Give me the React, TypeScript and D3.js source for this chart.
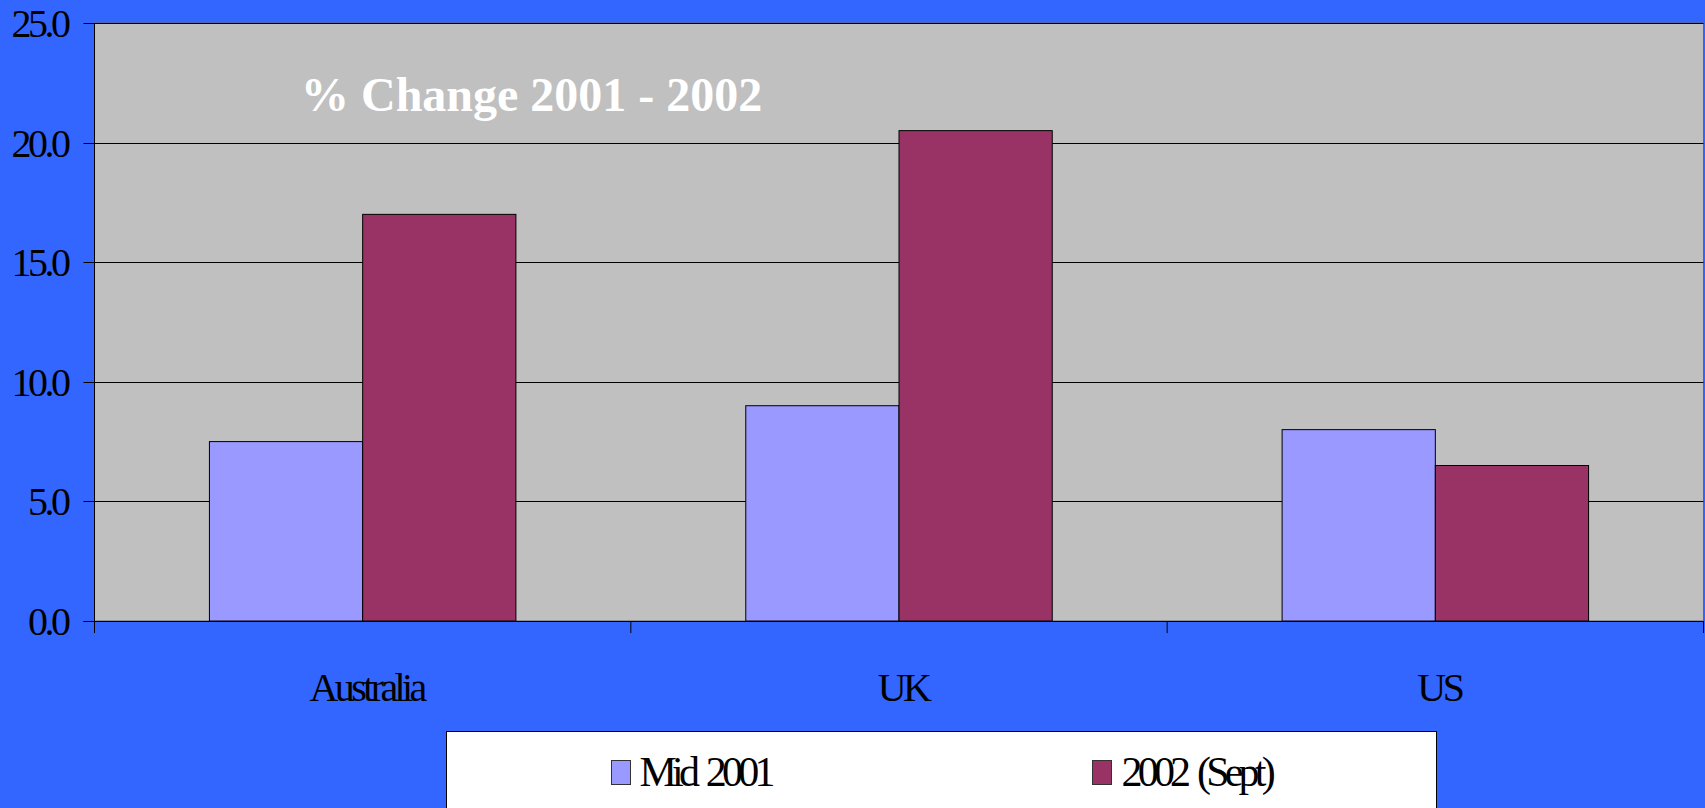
import React from "react";
import * as d3 from "d3";

const categories = ["Australia", "UK", "US"];
const seriesNames = ["Mid 2001", "2002 (Sept)"];
const mid2001 = [7.5, 9.0, 8.0];
const sept2002 = [17.0, 20.5, 6.5];
const yTicks = [0, 5, 10, 15, 20, 25];
const title = "% Change 2001 - 2002";

const W = 1705;
const H = 808;
const colors = ["#9999FF", "#993366"];
const font = "'Liberation Serif', 'Times New Roman', serif";

export default function App() {
  const left = 94.5;
  const right = 1703.5;
  const top = 23;
  const bottom = 621;

  const x0 = d3.scaleBand<string>().domain(categories).range([left, right]).paddingInner(0).paddingOuter(0);
  const x1 = d3.scaleBand<string>().domain(seriesNames).range([0, x0.bandwidth()]).paddingInner(0).paddingOuter(0.75);
  const y = d3.scaleLinear().domain([0, 25]).range([bottom, top]);

  const values = [mid2001, sept2002];

  return (
    <svg width={W} height={H} style={{ position: "absolute", left: 0, top: 0, display: "block" }}>
      <rect x={0} y={0} width={W} height={H} fill="#3366FF" />
      <rect x={left} y={top} width={right - left} height={bottom - top} fill="#C0C0C0" stroke="#666666" strokeWidth={1} />
      {yTicks.filter((t) => t > 0).map((t) => (
        <line key={"g" + t} x1={left} x2={right} y1={Math.round(y(t)) + 0.5} y2={Math.round(y(t)) + 0.5} stroke="#000" strokeWidth={1} />
      ))}
      {categories.map((c, i) =>
        seriesNames.map((s, j) => {
          const v = values[j][i];
          const bx = (x0(c) ?? 0) + (x1(s) ?? 0);
          return (
            <rect
              key={c + s}
              x={bx}
              y={y(v)}
              width={x1.bandwidth()}
              height={y(0) - y(v)}
              fill={colors[j]}
              stroke="#000"
              strokeWidth={1}
            />
          );
        })
      )}
      <line x1={left} x2={left} y1={top} y2={bottom + 12} stroke="#000" strokeWidth={1} />
      <line x1={left - 11} x2={right} y1={bottom + 0.5} y2={bottom + 0.5} stroke="#000" strokeWidth={1} />
      {yTicks.map((t) => (
        <g key={"yt" + t}>
          <line x1={left - 11} x2={left} y1={Math.round(y(t)) + 0.5} y2={Math.round(y(t)) + 0.5} stroke="#000" strokeWidth={1} />
          <text
            x={67.5}
            y={y(t) + 14}
            textAnchor="end"
            fontFamily={font}
            fontSize={40}
            letterSpacing={-3.5}
            fill="#000"
          >
            {t.toFixed(1)}
          </text>
        </g>
      ))}
      {x0.domain().map((c) => (
        <line key={"xt" + c} x1={x0(c)} x2={x0(c)} y1={bottom} y2={bottom + 12} stroke="#000" strokeWidth={1} />
      ))}
      <line x1={right} x2={right} y1={bottom} y2={bottom + 12} stroke="#000" strokeWidth={1} />
      {categories.map((c) => (
        <text
          key={"xl" + c}
          x={(x0(c) ?? 0) + x0.bandwidth() / 2 + 4}
          y={701}
          textAnchor="middle"
          fontFamily={font}
          fontSize={40}
          letterSpacing={-3.6}
          fill="#000"
        >
          {c}
        </text>
      ))}
      <text x={301} y={111} fontFamily={font} fontSize={48} fontWeight="bold" fill="#FFFFFF">
        {title}
      </text>
      <rect x={446.5} y={731.5} width={990} height={90} fill="#FFFFFF" stroke="#000" strokeWidth={1} />
      {seriesNames.map((s, j) => {
        const sx = j === 0 ? 611.5 : 1092.5;
        const tx = j === 0 ? 639.5 : 1121.5;
        return (
          <g key={"lg" + s}>
            <rect x={sx} y={760.5} width={19} height={24} fill={colors[j]} stroke="#333" strokeWidth={1} />
            <text x={tx} y={786} fontFamily={font} fontSize={42} letterSpacing={-4.8} wordSpacing={5} fill="#000">
              {s}
            </text>
          </g>
        );
      })}
    </svg>
  );
}
